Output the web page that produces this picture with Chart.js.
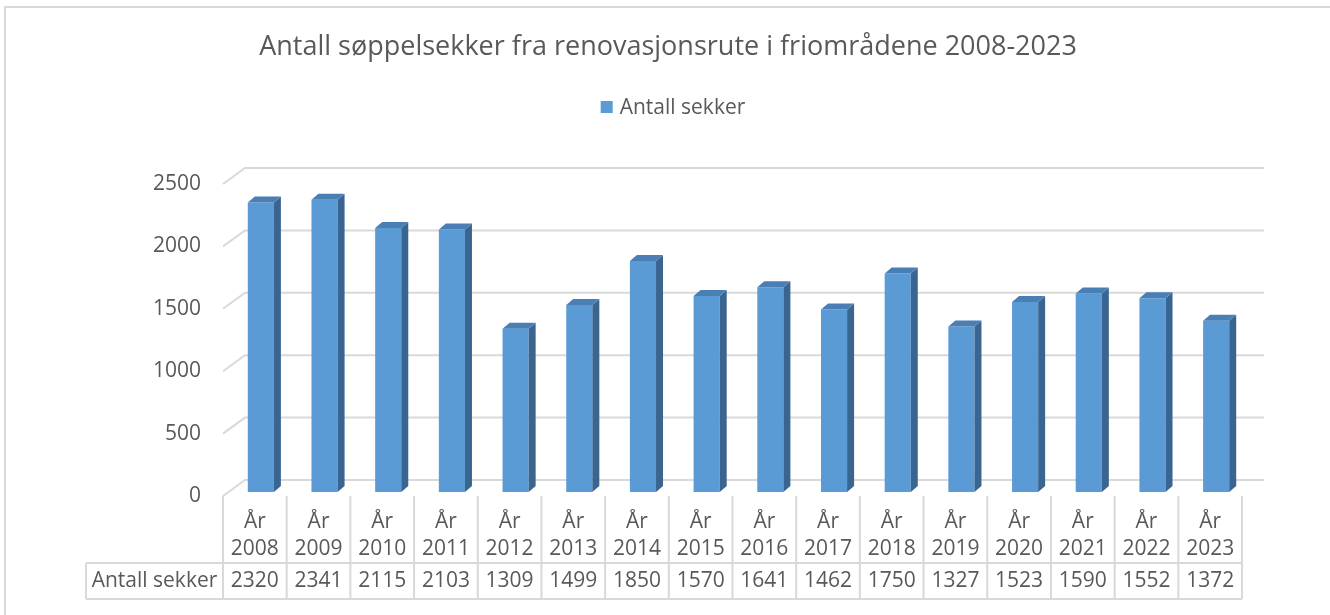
<!DOCTYPE html>
<html lang="no">
<head>
  <meta charset="UTF-8" />
  <title>Antall søppelsekker</title>
  <script src="https://cdn.jsdelivr.net/npm/chart.js"></script>
  <style>
    html, body { margin: 0; padding: 0; background: #fff; }
    canvas { display: block; }
  </style>
</head>
<body>
  <canvas id="chart" width="1330" height="615"></canvas>

  <script>
    const years = ['2008', '2009', '2010', '2011', '2012', '2013', '2014', '2015',
                   '2016', '2017', '2018', '2019', '2020', '2021', '2022', '2023'];
    const sacks = [2320, 2341, 2115, 2103, 1309, 1499, 1850, 1570,
                   1641, 1462, 1750, 1327, 1523, 1590, 1552, 1372];
    const yTicks = [0, 500, 1000, 1500, 2000, 2500];
    const seriesName = 'Antall sekker';
    const title = 'Antall søppelsekker fra renovasjonsrute i friområdene 2008-2023';

    const FONT = '"Open Sans", sans-serif';
    const TEXT = '#595959';
    const LINE = '#d9d9d9';
    const DX = 7, DY = 6;   // bar depth

    // draws the 3D floor/grid, the bar sides, labels and the data table
    const excel3d = {
      id: 'excel3d',
      beforeDatasetsDraw(chart) {
        const ctx = chart.ctx;
        const { left, right } = chart.chartArea;
        const y = chart.scales.y;
        ctx.save();
        ctx.strokeStyle = LINE;
        ctx.lineWidth = 2;
        yTicks.forEach(v => {
          const py = y.getPixelForValue(v);
          ctx.beginPath();
          ctx.moveTo(left - 6, py + 4);
          ctx.lineTo(left + 16, py - 12);
          ctx.lineTo(right + 16, py - 12);
          ctx.stroke();
        });
        ctx.restore();
      },
      afterDatasetsDraw(chart) {
        const ctx = chart.ctx;
        const { left, right } = chart.chartArea;
        const y = chart.scales.y;
        const bars = chart.getDatasetMeta(0).data;
        ctx.save();

        bars.forEach(b => {
          const x0 = b.x - b.width / 2, x1 = b.x + b.width / 2;
          // side
          ctx.fillStyle = '#3a6590';
          ctx.beginPath();
          ctx.moveTo(x1, b.y);
          ctx.lineTo(x1 + DX, b.y - DY);
          ctx.lineTo(x1 + DX, b.base - DY);
          ctx.lineTo(x1, b.base);
          ctx.closePath();
          ctx.fill();
          // top
          ctx.fillStyle = '#4a7fb5';
          ctx.beginPath();
          ctx.moveTo(x0, b.y);
          ctx.lineTo(x0 + DX, b.y - DY);
          ctx.lineTo(x1 + DX, b.y - DY);
          ctx.lineTo(x1, b.y);
          ctx.closePath();
          ctx.fill();
        });

        // y labels
        ctx.fillStyle = TEXT;
        ctx.font = '21px ' + FONT;
        ctx.textAlign = 'right';
        ctx.textBaseline = 'middle';
        yTicks.forEach(v => ctx.fillText(String(v), 201, y.getPixelForValue(v) + 4));

        // data table
        const tLeft = left - 6, tRight = right - 6;
        const colW = (tRight - tLeft) / years.length;
        const r0 = y.getPixelForValue(0) + 4, r1 = 563, r2 = 599, lx = 86;
        ctx.strokeStyle = LINE;
        ctx.lineWidth = 2;
        ctx.beginPath();
        for (let i = 0; i <= years.length; i++) {
          const cx = tLeft + i * colW;
          ctx.moveTo(cx, r0);
          ctx.lineTo(cx, r2);
        }
        ctx.moveTo(lx, r1); ctx.lineTo(tRight, r1);
        ctx.moveTo(lx, r2); ctx.lineTo(tRight, r2);
        ctx.moveTo(lx, r1); ctx.lineTo(lx, r2);
        ctx.stroke();

        ctx.textAlign = 'center';
        years.forEach((yr, i) => {
          const cx = tLeft + (i + 0.5) * colW;
          ctx.fillText('År', cx, 522);
          ctx.fillText(yr, cx, 549);
          ctx.fillText(String(sacks[i]), cx, 581);
        });
        ctx.fillText(seriesName, (lx + tLeft) / 2, 581);

        // title + legend
        ctx.font = '27px ' + FONT;
        ctx.fillText(title, 668, 47);
        ctx.font = '21px ' + FONT;
        ctx.textAlign = 'left';
        const tw = ctx.measureText(seriesName).width;
        const lx0 = 673 - (tw + 19) / 2;
        ctx.fillStyle = '#5b9bd5';
        ctx.fillRect(lx0, 101, 12, 12);
        ctx.fillStyle = TEXT;
        ctx.fillText(seriesName, lx0 + 19, 108);

        // outer frame
        ctx.strokeStyle = LINE;
        ctx.lineWidth = 2;
        ctx.beginPath();
        ctx.moveTo(5, 615);
        ctx.lineTo(5, 7);
        ctx.lineTo(1330, 7);
        ctx.stroke();

        ctx.restore();
      }
    };

    new Chart(document.getElementById('chart'), {
      type: 'bar',
      data: {
        labels: years,
        datasets: [{
          label: seriesName,
          data: sacks,
          backgroundColor: '#5b9bd5',
          borderWidth: 0,
          categoryPercentage: 1,
          barPercentage: 0.41
        }]
      },
      options: {
        responsive: false,
        animation: false,
        layout: { padding: { left: 229, right: 82, top: 180, bottom: 123 } },
        plugins: {
          legend: { display: false },
          title: { display: false },
          tooltip: { enabled: false }
        },
        scales: {
          x: { display: false },
          y: { display: false, min: 0, max: 2500 }
        }
      },
      plugins: [excel3d]
    });
  </script>
</body>
</html>
